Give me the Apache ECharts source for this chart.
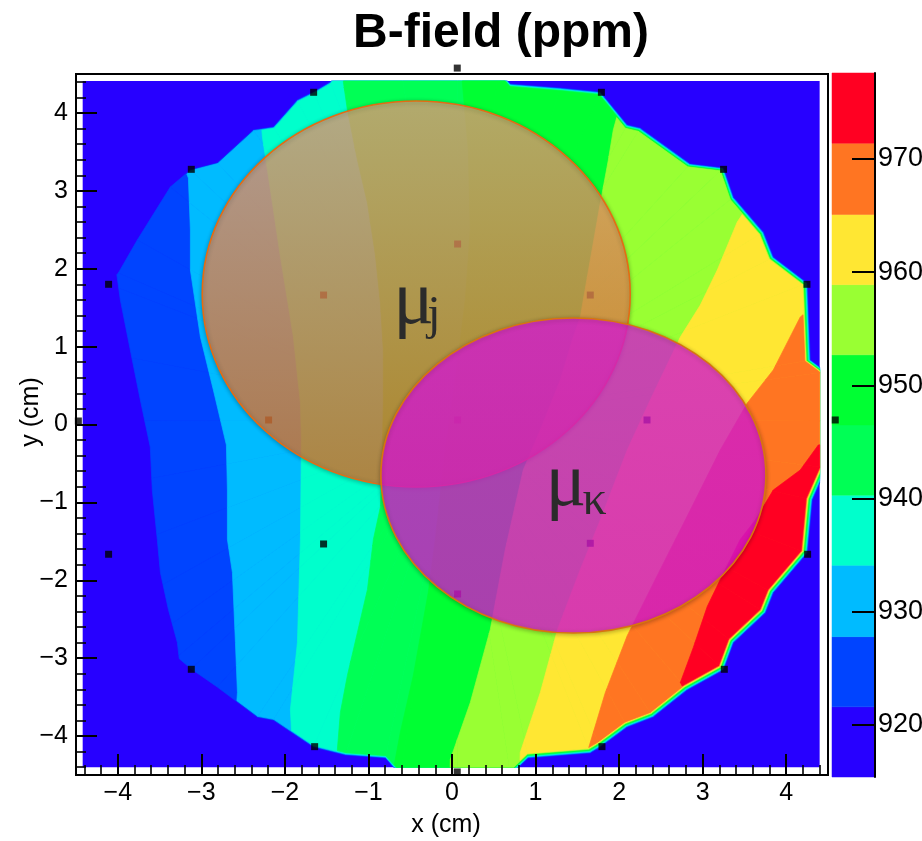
<!DOCTYPE html>
<html>
<head>
<meta charset="utf-8">
<title>B-field (ppm)</title>
<script src="https://cdn.jsdelivr.net/npm/echarts@6/dist/echarts.min.js"></script>
<style>
  html, body { margin: 0; padding: 0; background: #ffffff; }
  #chart { width: 922px; height: 841px; }
</style>
</head>
<body>
<div id="chart"></div>
<script>
// ---- field levels (ppm): edges of the ten contour bands, lowest first ----
const bandLevels = [915.4, 921.6, 927.8, 934.1, 940.3, 946.5, 952.7, 958.9, 965.1, 971.4, 977.6];
// colour-bar tick labels (ppm)
const paletteTicks = [920, 930, 940, 950, 960, 970];
// axis tick labels (cm)
const axisTicks = [-4, -3, -2, -1, 0, 1, 2, 3, 4];

// ---- probe positions (cm) ----
const outerProbes = [
  [0.063, 4.576], [1.788, 4.265], [3.250, 3.276], [4.248, 1.800],
  [4.587, 0.058], [4.256, -1.666], [3.259, -3.143], [1.795, -4.136],
  [0.063, -4.461], [-1.644, -4.136], [-3.120, -3.143], [-4.110, -1.666],
  [-4.472, 0.045], [-4.110, 1.800], [-3.120, 3.276], [-1.656, 4.265]
];
const innerProbes = [
  [0.067, 2.317], [1.655, 1.662], [2.334, 0.058], [1.655, -1.525],
  [0.067, -2.176], [-1.537, -1.534], [-2.195, 0.058], [-1.537, 1.662]
];
const centerProbe = [[0.067, 0.058]];

// ---- extent of the interpolated map (cm) ----
const mapRangeX = [-4.42, 4.40];
const mapRangeY = [-4.40, 4.41];

// outline of the region covered by the probes (cm), counter-clockwise
const coverage = [
  [4.647, 0.045], [4.479, 0.674], [4.288, 0.828], [4.252, 1.816], [3.845, 2.150],
  [3.726, 2.471], [3.367, 2.920], [3.248, 3.292], [2.852, 3.344], [2.253, 3.806],
  [2.098, 3.845], [1.775, 4.268], [1.296, 4.319], [0.698, 4.371], [0.554, 4.551],
  [0.063, 4.743], [-0.619, 4.615], [-1.361, 4.551], [-1.457, 4.397], [-1.660, 4.268],
  [-1.852, 4.166], [-2.139, 3.819], [-2.378, 3.780], [-2.809, 3.357], [-3.132, 3.267],
  [-3.371, 3.049], [-3.766, 2.369], [-3.993, 1.945], [-4.113, 1.804], [-4.329, 0.956],
  [-4.568, 0.045], [-4.329, -0.841], [-4.113, -1.650], [-3.790, -2.253], [-3.455, -2.638],
  [-3.288, -2.985], [-3.120, -3.139], [-2.809, -3.370], [-2.330, -3.755], [-2.139, -3.794],
  [-1.660, -4.140], [-1.277, -4.243], [-0.798, -4.281], [-0.619, -4.499], [0.063, -4.628],
  [0.698, -4.499], [0.913, -4.281], [1.655, -4.217], [1.775, -4.140], [2.098, -3.883],
  [2.409, -3.755], [2.816, -3.408], [3.248, -3.151], [3.367, -2.805], [3.750, -2.420],
  [3.845, -2.163], [4.252, -1.650], [4.312, -0.969], [4.479, -0.558]
];

// ---- iso-field lines (cm), one per inner band edge, traced top to bottom ----
const iso9216 = [
  [-4.30, 2.25], [-4.017, 1.971], [-3.969, 1.598], [-3.850, 0.956], [-3.730, 0.315],
  [-3.611, -0.289], [-3.587, -0.841], [-3.527, -1.476], [-3.490, -1.900], [-3.394, -2.375],
  [-3.287, -2.799], [-3.263, -3.017], [-3.131, -3.184], [-3.35, -3.55]
];
const iso9278 = [
  [-3.31, 3.60], [-3.155, 3.164], [-3.131, 2.497], [-3.131, 1.983], [-3.011, 1.123],
  [-2.856, 0.443], [-2.700, -0.263], [-2.688, -0.841], [-2.688, -1.476], [-2.628, -1.900],
  [-2.592, -2.799], [-2.568, -3.441], [-2.60, -3.95]
];
const iso9341 = [
  [-2.30, 4.10], [-2.269, 3.690], [-2.209, 3.267], [-2.137, 2.754], [-2.053, 2.150],
  [-1.969, 1.598], [-1.898, 1.123], [-1.814, 0.276], [-1.802, -0.199], [-1.814, -1.476],
  [-1.850, -2.799], [-1.934, -3.659], [-1.910, -4.146], [-1.93, -4.40]
];
const iso9403 = [
  [-1.30, 4.90], [-1.300, 4.397], [-1.252, 4.037], [-1.132, 3.395], [-1.012, 2.843],
  [-0.917, 2.176], [-0.857, 1.560], [-0.822, 0.956], [-0.822, 0.276], [-0.833, -0.327],
  [-0.857, -1.059], [-0.941, -1.476], [-1.012, -2.118], [-1.132, -2.670], [-1.252, -3.222],
  [-1.336, -3.697], [-1.372, -4.172], [-1.39, -4.90]
];
const iso9465 = [
  [0.12, 4.90], [0.123, 4.397], [0.195, 3.524], [0.219, 2.497], [0.159, 1.598],
  [0.039, 0.571], [-0.080, -0.327], [-0.200, -1.476], [-0.284, -2.157], [-0.463, -3.222],
  [-0.619, -3.954], [-0.702, -4.429], [-0.72, -4.90]
];
const iso9527 = [
  [2.05, 4.25], [1.930, 3.780], [1.871, 3.395], [1.775, 2.843], [1.655, 2.112],
  [1.536, 1.380], [1.452, 1.123], [1.296, 0.571], [1.057, -0.071], [0.853, -0.584],
  [0.638, -1.605], [0.458, -2.632], [0.219, -3.569], [-0.020, -4.300], [-0.03, -4.90]
];
const iso9589 = [
  [3.75, 3.20], [3.510, 2.754], [3.414, 2.600], [3.175, 1.983], [2.972, 1.534],
  [2.733, 1.123], [2.373, 0.315], [2.098, -0.327], [1.775, -1.226], [1.536, -1.861],
  [1.263, -2.632], [1.057, -3.441], [0.817, -4.210], [0.80, -4.90]
];
const iso9651 = [
  [4.60, 1.50], [4.240, 1.444], [4.168, 1.380], [3.845, 0.700], [3.534, 0.276],
  [3.211, -0.327], [2.852, -1.098], [2.493, -1.861], [2.098, -2.709], [1.835, -3.441],
  [1.619, -4.210], [1.60, -4.90]
];
const iso9714 = [
  [4.70, -0.20], [4.384, -0.263], [4.168, -0.584], [3.845, -0.841], [3.630, -1.226],
  [3.450, -1.476], [3.211, -1.990], [3.055, -2.336], [2.888, -2.863], [2.733, -3.312],
  [2.793, -3.441], [2.95, -3.90]
];

// ---- the two highlighted sub-regions (cm): centre x, centre y, half-width, half-height ----
const regionJ = [-0.428, 1.675, 2.561, 2.478];
const regionK = [1.453, -0.655, 2.304, 2.022];
const regionSubscripts = ['j', '\u03ba'];

// ---- styling ----
const bandColors = ['#2700FF', '#0044FF', '#00BBFF', '#00FFCC', '#00FF55',
                    '#00FF33', '#99FF33', '#FFE733', '#FF7522', '#FF0022'];
const RIM_STEP = 0.0022;          // inward shrink of the covered outline per level
const FONT = '"Liberation Sans", Arial, sans-serif';
const SERIF = '"Liberation Serif", "Times New Roman", serif';
const regionLook = [
  { top: 'rgba(240,160,125,0.74)', bottom: 'rgba(226,112,38,0.76)', edge: '#E46C14',
    mainDx: -23, mainDy: 9, subDx: 11, subDy: 22 },
  { top: 'rgba(226,28,222,0.74)', bottom: 'rgba(222,22,215,0.76)', edge: '#D9740F',
    mainDx: -28, mainDy: 10, subDx: 9, subDy: 26 }
];

const isoLines = [iso9216, iso9278, iso9341, iso9403, iso9465, iso9527, iso9589, iso9651, iso9714];

// ---- polygon helpers (work in axis units) ----
function signedArea(poly) {
  let a = 0;
  for (let i = 0; i < poly.length; i++) {
    const p = poly[i], q = poly[(i + 1) % poly.length];
    a += p[0] * q[1] - q[0] * p[1];
  }
  return a / 2;
}
// Sutherland-Hodgman: clip any polygon by a convex counter-clockwise polygon
function clipConvex(subject, clip) {
  let out = subject;
  for (let i = 0; i < clip.length && out.length; i++) {
    const a = clip[i], b = clip[(i + 1) % clip.length];
    const side = p => (b[0] - a[0]) * (p[1] - a[1]) - (b[1] - a[1]) * (p[0] - a[0]);
    const inp = out;
    out = [];
    for (let j = 0; j < inp.length; j++) {
      const p = inp[j], q = inp[(j + 1) % inp.length];
      const sp = side(p), sq = side(q);
      if (sp >= 0) out.push(p);
      if ((sp >= 0) !== (sq >= 0)) {
        const t = sp / (sp - sq);
        out.push([p[0] + t * (q[0] - p[0]), p[1] + t * (q[1] - p[1])]);
      }
    }
  }
  return out;
}

const outline = signedArea(coverage) < 0 ? coverage.slice().reverse() : coverage;
const fanCentre = centerProbe[0];
const mapBox = [[mapRangeX[0], mapRangeY[0]], [mapRangeX[1], mapRangeY[0]],
                [mapRangeX[1], mapRangeY[1]], [mapRangeX[0], mapRangeY[1]]];

// area above level k: right-hand side of its iso-line, inside the covered outline
function bandPieces(k) {
  const line = isoLines[k - 1];
  const first = line[0], last = line[line.length - 1];
  const region = line.concat([[last[0], -9], [9, -9], [9, 9], [first[0], 9]]);
  const boxed = clipConvex(region, mapBox);
  const s = 1 - RIM_STEP * (k - 1);
  const c = fanCentre;
  const ring = outline.map(p => [c[0] + s * (p[0] - c[0]), c[1] + s * (p[1] - c[1])]);
  const pieces = [];
  for (let i = 0; i < ring.length; i++) {
    const tri = [c, ring[i], ring[(i + 1) % ring.length]];
    const piece = clipConvex(boxed, tri);
    if (piece.length >= 3) pieces.push(piece);
  }
  return pieces;
}
const bandGeometry = [null];
for (let k = 1; k < bandColors.length; k++) bandGeometry.push(bandPieces(k));

const minorTicks = [];
for (let v = -44; v <= 44; v += 2) if (v % 10 !== 0) minorTicks.push(v / 10);

const fmt = v => (v < 0 ? '\u2212' + Math.abs(v) : String(v));

function mainAxis(extra) {
  return Object.assign({
    gridIndex: 0, type: 'value', min: -4.5, max: 4.5, z: 10, offset: 0,
    axisLine: { show: false, onZero: false },
    splitLine: { show: false }
  }, extra);
}
const majorTick = { show: true, inside: true, length: 21, customValues: axisTicks,
                    lineStyle: { color: '#000', width: 2 } };
const minorTick = { show: true, inside: true, length: 10, customValues: minorTicks,
                    lineStyle: { color: '#000', width: 1.6 } };

const chart = echarts.init(document.getElementById('chart'), null, { renderer: 'canvas' });

chart.setOption({
  animation: false,
  backgroundColor: '#ffffff',
  grid: [
    { left: 76, top: 74, width: 752, height: 701, show: true, borderColor: '#000',
      borderWidth: 2, backgroundColor: 'transparent', containLabel: false, outerBoundsMode: 'none' },
    { left: 832, top: 73, width: 43, height: 704, show: false, containLabel: false, outerBoundsMode: 'none' }
  ],
  xAxis: [
    mainAxis({ position: 'bottom', axisTick: majorTick,
      axisLabel: { customValues: axisTicks, formatter: fmt, color: '#000', fontSize: 25,
                   fontFamily: FONT, margin: 6 } }),
    mainAxis({ position: 'bottom', axisTick: minorTick, axisLabel: { show: false } }),
    { gridIndex: 1, type: 'value', min: 0, max: 1, show: false }
  ],
  yAxis: [
    mainAxis({ position: 'left', axisTick: majorTick,
      axisLabel: { customValues: axisTicks, formatter: fmt, color: '#000', fontSize: 25,
                   fontFamily: FONT, margin: 8 } }),
    mainAxis({ position: 'left', axisTick: minorTick, axisLabel: { show: false } }),
    { gridIndex: 1, type: 'value', min: bandLevels[0], max: bandLevels[bandLevels.length - 1],
      position: 'right', z: 10, offset: 0,
      axisLine: { show: true, onZero: false, lineStyle: { color: '#000', width: 2 } },
      axisTick: { show: true, inside: true, length: 23, customValues: paletteTicks,
                  lineStyle: { color: '#000', width: 2 } },
      axisLabel: { customValues: paletteTicks, color: '#000', fontSize: 27, fontFamily: FONT, margin: 3 },
      splitLine: { show: false } }
  ],
  graphic: [
    { type: 'text', x: 501, y: 34, silent: true,
      style: { text: 'B-field (ppm)', font: 'bold 48px ' + FONT, fill: '#000',
               align: 'center', verticalAlign: 'middle' } },
    { type: 'text', x: 446, y: 825, silent: true,
      style: { text: 'x (cm)', font: '25px ' + FONT, fill: '#000',
               align: 'center', verticalAlign: 'middle' } },
    { type: 'text', x: 31, y: 412, rotation: Math.PI / 2, silent: true,
      style: { text: 'y (cm)', font: '25px ' + FONT, fill: '#000',
               align: 'center', verticalAlign: 'middle' } }
  ],
  series: [
    { // map background: lowest band
      type: 'custom', name: 'map', xAxisIndex: 0, yAxisIndex: 0, z: 1, silent: true,
      data: [[mapRangeX[0], mapRangeY[1], mapRangeX[1], mapRangeY[0]]],
      renderItem(params, api) {
        const p0 = api.coord([api.value(0), api.value(1)]);
        const p1 = api.coord([api.value(2), api.value(3)]);
        return { type: 'rect', shape: { x: p0[0], y: p0[1], width: p1[0] - p0[0], height: p1[1] - p0[1] },
                 style: { fill: bandColors[0] } };
      }
    },
    { // contour bands, drawn from the lowest level upwards
      type: 'custom', name: 'B-field', xAxisIndex: 0, yAxisIndex: 0, z: 2, silent: true,
      data: bandLevels.slice(1, bandColors.length).map((v, i) => [i + 1, v]),
      renderItem(params, api) {
        const k = api.value(0);
        const color = bandColors[k];
        return {
          type: 'group',
          children: bandGeometry[k].map(pc => ({
            type: 'polygon',
            shape: { points: pc.map(p => api.coord(p)) },
            style: { fill: color, stroke: color, lineWidth: 0.7 }
          }))
        };
      }
    },
    { // probe positions
      type: 'scatter', name: 'probes', xAxisIndex: 0, yAxisIndex: 0, z: 3, silent: true, clip: false,
      symbol: 'rect', symbolSize: 7, itemStyle: { color: '#000' },
      data: outerProbes.concat(innerProbes, centerProbe)
    },
    { // highlighted regions
      type: 'custom', name: 'regions', xAxisIndex: 0, yAxisIndex: 0, z: 4, silent: true,
      data: [regionJ, regionK],
      renderItem(params, api) {
        const look = regionLook[params.dataIndex];
        const c = api.coord([api.value(0), api.value(1)]);
        const rx = api.size([api.value(2), 0])[0];
        const ry = api.size([0, api.value(3)])[1];
        return {
          type: 'group',
          children: [
            { type: 'ellipse', shape: { cx: c[0], cy: c[1], rx: rx, ry: ry },
              style: { fill: new echarts.graphic.LinearGradient(0, 0, 0, 1, [
                         { offset: 0, color: look.top }, { offset: 1, color: look.bottom }]),
                       stroke: look.edge, lineWidth: 1.6,
                       shadowBlur: 4, shadowColor: 'rgba(0,0,0,0.3)', shadowOffsetY: 1 } },
            { type: 'text', x: c[0] + look.mainDx, y: c[1] + look.mainDy,
              style: { text: '\u03bc', font: '76px ' + SERIF, fill: '#2b2b2b',
                       align: 'left', verticalAlign: 'middle' } },
            { type: 'text', x: c[0] + look.subDx, y: c[1] + look.subDy,
              style: { text: regionSubscripts[params.dataIndex], font: '48px ' + SERIF, fill: '#2b2b2b',
                       align: 'left', verticalAlign: 'middle' } }
          ]
        };
      }
    },
    { // colour palette
      type: 'custom', name: 'palette', xAxisIndex: 2, yAxisIndex: 2, z: 2, silent: true,
      data: bandColors.map((c, i) => [i, bandLevels[i], bandLevels[i + 1]]),
      renderItem(params, api) {
        const top = api.coord([0, api.value(2)]);
        const bot = api.coord([1, api.value(1)]);
        return { type: 'rect',
                 shape: { x: top[0], y: top[1], width: bot[0] - top[0], height: bot[1] - top[1] },
                 style: { fill: bandColors[api.value(0)], stroke: bandColors[api.value(0)], lineWidth: 0.5 } };
      }
    }
  ]
});
</script>
</body>
</html>
